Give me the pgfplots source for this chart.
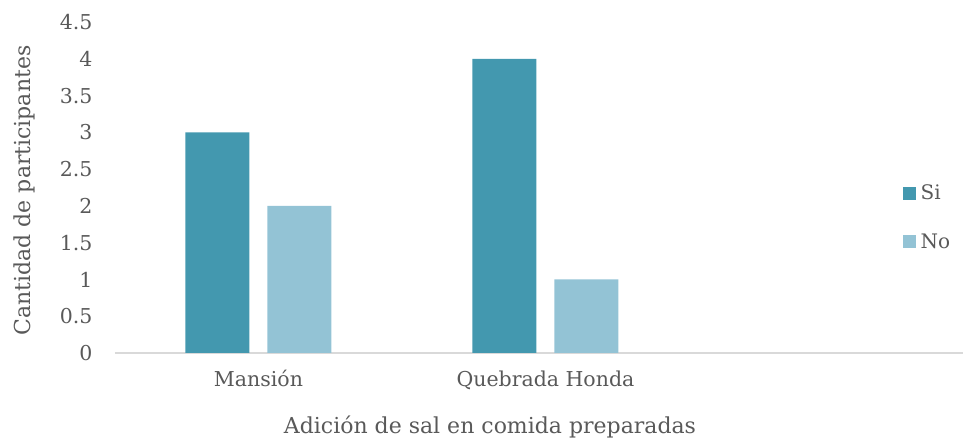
\documentclass[border=0pt]{standalone}
\usepackage{fontspec}
\setmainfont{DejaVu Serif}
\usepackage{pgfplots}
\pgfplotsset{compat=1.18}
\definecolor{si}{HTML}{4398AF}
\definecolor{no}{HTML}{93C3D5}
\definecolor{txt}{HTML}{595959}
\definecolor{axl}{HTML}{D9D9D9}
\begin{document}
\begin{tikzpicture}
\begin{axis}[
  scale only axis, width=848pt, height=331pt,
  ybar, bar width=64pt,
  xmin=-0.5, xmax=2.455, ymin=0, ymax=4.5,
  xtick={0,1}, xticklabels={Mansión, Quebrada Honda},
  ytick={0,0.5,...,4.5},
  /pgf/number format/assume math mode=true,
  axis lines*=left, separate axis lines,
  y axis line style={draw=none},
  x axis line style={draw=axl, line width=1.5pt},
  major tick length=0pt, tick style={draw=none},
  every tick label/.append style={font=\fontsize{20.5}{24}\selectfont, text=txt},
  yticklabel style={xshift=-19pt},
  xticklabel style={yshift=-14pt},
  xlabel={Adición de sal en comida preparadas},
  ylabel={Cantidad de participantes},
  label style={font=\fontsize{22}{26}\selectfont, text=txt},
  xlabel style={yshift=-20pt, xshift=-49pt},
  ylabel style={yshift=18pt, xshift=-3pt},
  legend style={draw=none, fill=none, at={(0.925,0.41)}, anchor=west,
    font=\fontsize{20}{24}\selectfont, text=txt, row sep=28pt,
    nodes={inner xsep=5pt}},
  legend cell align=left,
  legend image code/.code={\fill[#1] (0pt,-6.5pt) rectangle (13pt,6.5pt);},
]
\addplot[fill=si, draw=none, bar shift=-41pt] coordinates {(0,3) (1,4)};
\addplot[fill=no, draw=none, bar shift=41pt] coordinates {(0,2) (1,1)};
\legend{Si, No}
\end{axis}
\path (current axis.south west) ++(-115pt,-86pt);
\path (current axis.north east) ++(1pt,22pt);
\end{tikzpicture}
\end{document}
